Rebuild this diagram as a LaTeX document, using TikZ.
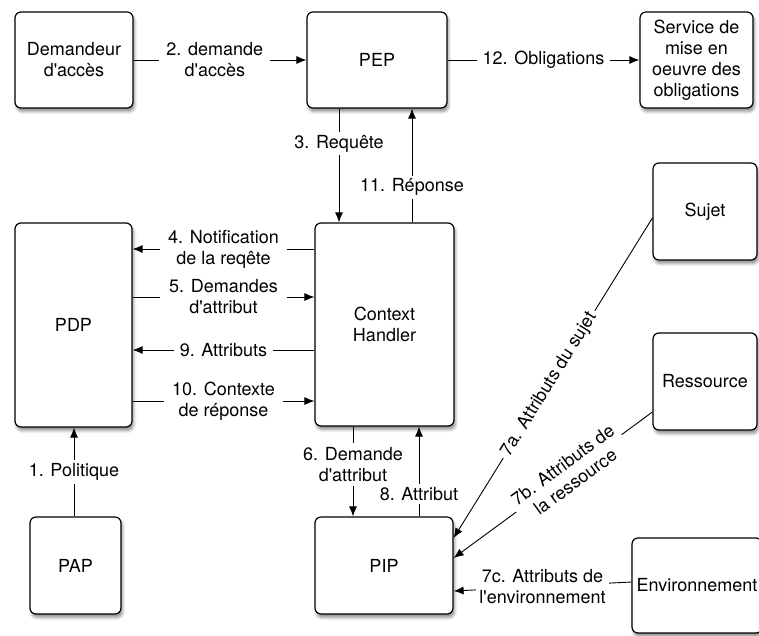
\documentclass[tikz,border=0pt]{standalone}
\usepackage{fontspec}
\setmainfont{TeX Gyre Heros}[Ligatures=TeXOff]
\usetikzlibrary{arrows.meta,shadows.blur}
\begin{document}
\begin{tikzpicture}[x=1pt,y=-1pt,
  every node/.style={font=\fontsize{18}{21}\selectfont},
  box/.style={draw, line width=1.2pt, rounded corners=6pt, fill=white, align=center, inner sep=0pt,
    blur shadow={shadow xshift=1.5pt, shadow yshift=-3.5pt, shadow blur radius=3pt, shadow opacity=45}},
  conn/.style={line width=0.9pt},
  arr/.style={conn, -{Latex[length=10pt,width=8pt]}},
  lbl/.style={fill=white, align=center, inner xsep=7pt, inner ysep=3pt}]
\useasboundingbox (0,0) rectangle (759,635);
% nodes
\node[box, minimum width=118pt, minimum height=96pt] (dem) at (74,60) {Demandeur\\d'accès};
\node[box, minimum width=140pt, minimum height=96pt] (pep) at (377,60) {PEP};
\node[box, minimum width=113pt, minimum height=96pt] (svc) at (696.5,60) {Service de\\mise en\\oeuvre des\\obligations};
\node[box, minimum width=117pt, minimum height=204pt] (pdp) at (73.5,325) {PDP};
\node[box, minimum width=139pt, minimum height=203pt] (ch) at (384.5,324.5) {Context\\Handler};
\node[box, minimum width=104pt, minimum height=97pt] (sujet) at (705,211.5) {Sujet};
\node[box, minimum width=104pt, minimum height=97pt] (res) at (705,381.5) {Ressource};
\node[box, minimum width=91pt, minimum height=97pt] (pap) at (75.5,565.5) {PAP};
\node[box, minimum width=138pt, minimum height=97pt] (pip) at (384,565.5) {PIP};
\node[box, minimum width=130pt, minimum height=95pt] (env) at (697,585.5) {Environnement};
% connectors
\draw[arr] (pap.north -| 74,0) -- node[lbl, inner xsep=2pt] {1. Politique} (pdp.south -| 74,0);
\draw[arr] (dem.east) -- node[lbl, pos=0.47] {2. demande\\d'accès} (pep.west);
\draw[arr] (pep.south -| 339,0) -- node[lbl, pos=0.31, inner xsep=2pt] {3. Requête} (ch.north -| 339,0);
\draw[arr] (ch.west |- 0,249) -- node[lbl, inner xsep=8pt] {4. Notification\\de la reqête} (pdp.east |- 0,249);
\draw[arr] (pdp.east |- 0,297) -- node[lbl, inner xsep=9pt] {5. Demandes\\d'attribut} (ch.west |- 0,297);
\draw[arr] (ch.south -| 353,0) -- node[lbl, pos=0.42, inner xsep=2pt, inner ysep=4pt] {6. Demande\\d'attribut} (pip.north -| 353,0);
\draw[arr] (sujet.west |- 0,218) -- node[lbl, sloped, pos=0.52, inner xsep=4pt, inner ysep=1pt] {7a. Attributs du sujet} (pip.east |- 0,538);
\draw[arr] (res.west |- 0,412) -- node[lbl, sloped, pos=0.42, inner xsep=4pt, inner ysep=1pt] {7b. Attributs de\\la ressource} (pip.east |- 0,558);
\draw[arr] (env.west |- 0,582) -- node[lbl, inner xsep=3pt] {7c. Attributs de\\l'environnement} (pip.east |- 0,591);
\draw[arr] (pip.north -| 419,0) -- node[lbl, pos=0.25, inner xsep=2pt] {8. Attribut} (ch.south -| 419,0);
\draw[arr] (ch.west |- 0,350) -- node[lbl, inner xsep=6pt] {9. Attributs} (pdp.east |- 0,350);
\draw[arr] (pdp.east |- 0,401) -- node[lbl, inner xsep=8pt] {10. Contexte\\de réponse} (ch.west |- 0,401);
\draw[arr] (ch.north -| 412,0) -- node[lbl, pos=0.31, inner xsep=2pt] {11. Réponse} (pep.south -| 412,0);
\draw[arr] (pep.east) -- node[lbl, inner xsep=6pt] {12. Obligations} (svc.west);
\end{tikzpicture}
\end{document}
